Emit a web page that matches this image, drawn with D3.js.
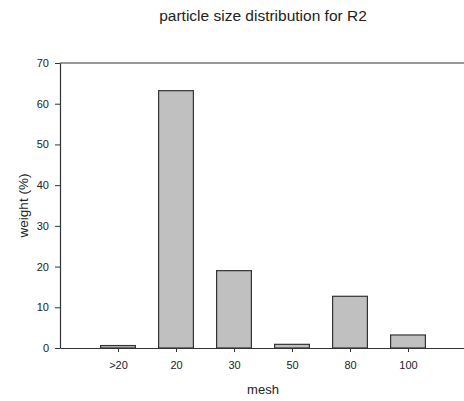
<!DOCTYPE html>
<html>
<head>
<meta charset="utf-8">
<script src="https://cdn.jsdelivr.net/npm/d3@7"></script>
<style>
  body { margin: 0; background: #fff; }
  text { font-family: "Liberation Sans", Arial, sans-serif; fill: #222; }
</style>
</head>
<body>
<div id="chart"></div>
<script>
// chart values
const meshLabels = ['>20', '20', '30', '50', '80', '100'];
const weights = [0.6, 63.2, 19.0, 0.9, 12.7, 3.2];
const yTicks = [0, 10, 20, 30, 40, 50, 60, 70];

const svgWidth = 464;
const svgHeight = 401;
const margins = { top: 63, bottom: 53, left: 60, right: -2 };
const width = svgWidth - margins.left - margins.right;
const height = svgHeight - margins.top - margins.bottom;

const svg = d3.select('#chart').append('svg')
    .attr('width', svgWidth)
    .attr('height', svgHeight);

const chartGroup = svg.append('g')
    .attr('transform', `translate(${margins.left}, ${margins.top})`);

// slots 0..7, bars centred on 1..6
const xScale = d3.scaleLinear().domain([0, 7]).range([0, width]);
const yScale = d3.scaleLinear().domain([0, 70]).range([height, 0]);
const barW = (xScale(1) - xScale(0)) * 0.6;

chartGroup.selectAll('rect.bar')
    .data(weights)
    .enter()
    .append('rect')
    .attr('class', 'bar')
    .attr('x', (d, i) => xScale(i + 1) - barW / 2)
    .attr('y', d => yScale(d))
    .attr('width', barW)
    .attr('height', d => yScale(0) - yScale(d))
    .attr('fill', '#c0c0c0')
    .attr('stroke', '#333')
    .attr('stroke-width', 1.2);

// axes
const bottomAxis = d3.axisBottom(xScale)
    .tickValues(d3.range(1, 7))
    .tickFormat(i => meshLabels[i - 1])
    .tickSize(4)
    .tickSizeOuter(0)
    .tickPadding(9);
const leftAxis = d3.axisLeft(yScale)
    .tickValues(yTicks)
    .tickSize(5)
    .tickSizeOuter(0)
    .tickPadding(6);

const xg = chartGroup.append('g')
    .attr('transform', `translate(0, ${height})`)
    .call(bottomAxis);
const yg = chartGroup.append('g').call(leftAxis);

[xg, yg].forEach(g => {
    g.select('.domain').attr('stroke', '#333').attr('stroke-width', 1.2);
    g.selectAll('.tick line').attr('stroke', '#333');
    g.selectAll('.tick text').style('font-size', '11px').attr('fill', '#222');
});

// top frame line
chartGroup.append('line')
    .attr('x1', 0).attr('x2', width)
    .attr('y1', 0).attr('y2', 0)
    .attr('stroke', '#333')
    .attr('stroke-width', 1.2);

// labels
svg.append('text')
    .attr('x', margins.left + xScale(3.5))
    .attr('y', 21)
    .attr('text-anchor', 'middle')
    .style('font-size', '15.5px')
    .text('particle size distribution for R2');

chartGroup.append('text')
    .attr('transform', 'rotate(-90)')
    .attr('x', -height / 2)
    .attr('y', -32)
    .attr('text-anchor', 'middle')
    .style('font-size', '13.5px')
    .text('weight (%)');

chartGroup.append('text')
    .attr('x', xScale(3.5))
    .attr('y', height + 46)
    .attr('text-anchor', 'middle')
    .style('font-size', '13px')
    .text('mesh');
</script>
</body>
</html>
